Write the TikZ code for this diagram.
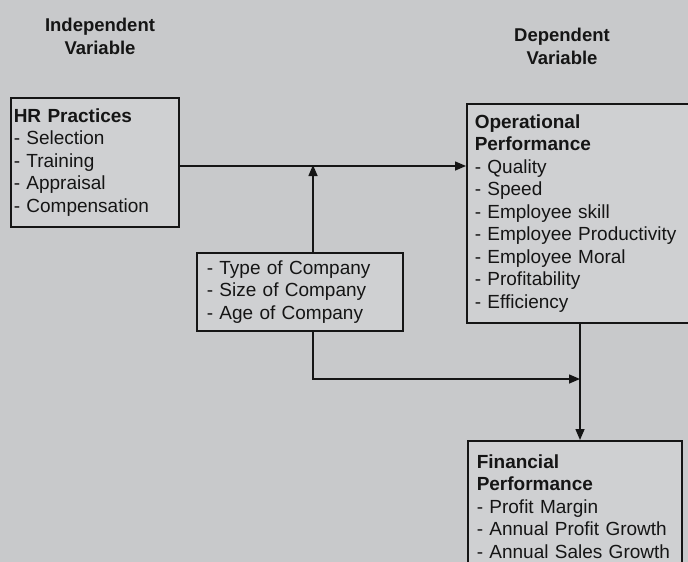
\documentclass[tikz,border=0pt]{standalone}
\usepackage{fontspec}
\setmainfont{Liberation Sans}
\usepackage{xcolor}
\usetikzlibrary{arrows.meta}
\usetikzlibrary{positioning}
\definecolor{scangray}{HTML}{C8C9CB}
\definecolor{boxgray}{HTML}{CFD0D2}
\definecolor{inkgray}{HTML}{151515}

\begin{document}
\begin{tikzpicture}[x=1pt, y=-1pt,
    every node/.style={font=\fontsize{19}{22.5}\selectfont, text=inkgray},
    title/.style={align=center, font=\fontsize{18.5}{23}\selectfont\bfseries},
    factor box/.style={rectangle, draw=inkgray, line width=1.5pt, fill=boxgray, align=left, anchor=north west},
    link/.style={draw=inkgray, line width=1.5pt, -{Triangle[length=11pt, width=9pt]}},
  ]

  % Page
  \useasboundingbox (0,0) rectangle (688,562);
  \fill[scangray] (0,0) rectangle (688,562);

  % Column titles
  \node[title] (indep) at (100,36) {Independent\\Variable};
  \node[title] (dep)   at (562,46) {Dependent\\Variable};

  % Boxes
  \node[factor box, inner xsep=3pt, text width=162pt, minimum height=129pt] (hr) at (10,97)
    {\textbf{HR Practices}\\- Selection\\- Training\\- Appraisal\\- Compensation};
  \node[factor box, inner xsep=8pt, text width=210pt, minimum height=219pt] (op) at (466,103)
    {\textbf{Operational}\\\textbf{Performance}\\- Quality\\- Speed\\- Employee skill\\- Employee Productivity\\- Employee Moral\\- Profitability\\- Efficiency};
  \node[factor box, inner xsep=10pt, text width=186pt, minimum height=78pt] (mod) at (196,252)
    {- Type of Company\\- Size of Company\\- Age of Company};
  \node[factor box, inner xsep=9pt, text width=196pt, minimum height=131pt] (fin) at (467,440)
    {\textbf{Financial}\\\textbf{Performance}\\- Profit Margin\\- Annual Profit Growth\\- Annual Sales Growth};

  % Bend points
  \coordinate (join) at (313,166);
  \coordinate (bend) at (313,379);
  \coordinate (drop) at (580,379);

  % Connectors
  \draw[link] (hr.east |- join) -- (op.west |- join);
  \draw[link] (mod.north -| join) -- ([yshift=1pt]join);
  \draw[link] (mod.south -| bend) -- (bend) -- (drop);
  \draw[link] (op.south -| drop) -- (fin.north -| drop);

\end{tikzpicture}
\end{document}
